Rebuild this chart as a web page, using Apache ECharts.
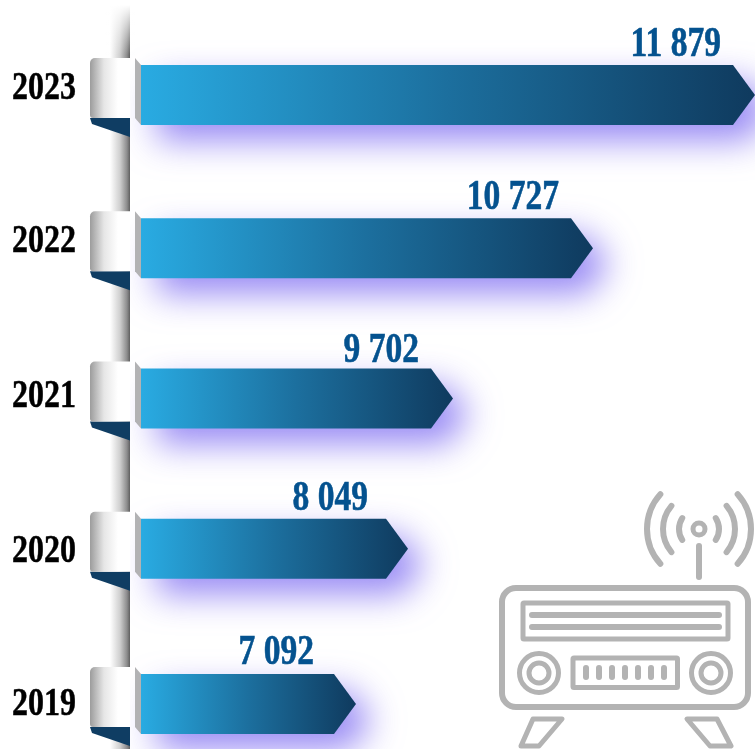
<!DOCTYPE html>
<html>
<head>
<meta charset="utf-8">
<title>Radio</title>
<script src="https://cdn.jsdelivr.net/npm/echarts@6/dist/echarts.min.js"></script>
<style>
  html, body { margin: 0; padding: 0; background: #fff; }
  #chart { width: 755px; height: 749px; }
</style>
</head>
<body>
<div id="chart"></div>
<script>
var years = ['2023', '2022', '2021', '2020', '2019']
// printed figures
var values = [11879, 10727, 9702, 8049, 7092]
var valueLabels = ['11 879', '10 727', '9 702', '8 049', '7 092']
// the arrows in the picture are not to scale with their figures,
// so this is how long each one reads on an axis where the top arrow = 11879
var drawnLengths = [11879, 8750, 6046, 5177, 4172]

var GREY = '#b3b3b3'
var SERIF = '"Liberation Serif", serif'

// hand placed in the original, rows sit a few px off the even spacing
var rowNudge = [0, 1, -1, -3, 0]
var yearNudge = [-7, -6, -3, 0, 0]
var labelNudgeX = [0, 0, 0, -6, -8]
var labelNudgeY = [2, 2, 4, 2, 1]

function renderRow (params, api) {
  var i = params.dataIndex
  var start = api.coord([0, i])
  var end = api.coord([api.value(0), i])
  var cy = start[1] + rowNudge[i]
  var x0 = start[0] + 1
  var tip = end[0]
  var half = 30

  return {
    type: 'group',
    children: [
      // arrow
      {
        type: 'polygon',
        shape: {
          points: [[x0, cy - half], [tip - 22, cy - half], [tip, cy], [tip - 22, cy + half], [x0, cy + half]]
        },
        style: {
          fill: new echarts.graphic.LinearGradient(0, 0, 1, 0, [
            {offset: 0, color: '#29abe2'},
            {offset: 0.5, color: '#1c6f9e'},
            {offset: 1, color: '#0f3a5e'}
          ]),
          shadowColor: 'rgba(110,90,240,0.7)',
          shadowBlur: 34,
          shadowOffsetX: 16,
          shadowOffsetY: 16
        }
      },
      // fold between ribbon and arrow
      {
        type: 'polygon',
        shape: {points: [[x0 - 6, cy - 37], [x0, cy - 30], [x0, cy + 30], [x0 - 6, cy + 23]]},
        style: {fill: '#b2b2b4'}
      },
      // ribbon tail
      {
        type: 'polygon',
        shape: {points: [[x0 - 51, cy + 23], [x0 - 11, cy + 23], [x0 - 11, cy + 42], [x0 - 49, cy + 29]]},
        style: {fill: '#0f3d63'}
      },
      // ribbon
      {
        type: 'rect',
        shape: {x: x0 - 51, y: cy - 37, width: 40, height: 60, r: [5, 0, 0, 3]},
        style: {
          fill: new echarts.graphic.LinearGradient(0, 0, 1, 0, [
            {offset: 0, color: '#9c9c9c'},
            {offset: 0.35, color: '#e6e6e6'},
            {offset: 0.7, color: '#ffffff'},
            {offset: 1, color: '#ffffff'}
          ])
        }
      },
      // figure
      {
        type: 'text',
        x: tip - 34 + labelNudgeX[i],
        y: cy - 52 + labelNudgeY[i],
        scaleX: 0.78,
        style: {
          text: valueLabels[i],
          font: 'bold 43px ' + SERIF,
          fill: '#04528f',
          stroke: '#04528f',
          lineWidth: 0.6,
          align: 'right',
          verticalAlign: 'middle'
        }
      },
      // year
      {
        type: 'text',
        x: 44,
        y: start[1] + yearNudge[i],
        scaleX: 0.78,
        style: {
          text: years[i],
          font: 'bold 41px ' + SERIF,
          fill: '#000',
          stroke: '#000',
          lineWidth: 0.5,
          align: 'center',
          verticalAlign: 'middle'
        }
      }
    ]
  }
}

// radio icon
function line (x1, y1, x2, y2, w) {
  return {
    type: 'line',
    shape: {x1: x1, y1: y1, x2: x2, y2: y2},
    style: {stroke: GREY, lineWidth: w || 6, lineCap: 'round'}
  }
}
function box (x, y, w, h, r, lw) {
  return {
    type: 'rect',
    shape: {x: x, y: y, width: w, height: h, r: r},
    style: {fill: 'none', stroke: GREY, lineWidth: lw, lineJoin: 'round'}
  }
}
function ring (cx, cy, r, lw) {
  return {
    type: 'circle',
    shape: {cx: cx, cy: cy, r: r},
    style: {fill: 'none', stroke: GREY, lineWidth: lw}
  }
}
function wave (r, deg, side) {
  var a = deg * Math.PI / 180
  var mid = side < 0 ? Math.PI : 0
  return {
    type: 'arc',
    shape: {cx: 699, cy: 529, r: r, startAngle: mid - a, endAngle: mid + a, clockwise: true},
    style: {fill: 'none', stroke: GREY, lineWidth: 6, lineCap: 'round'}
  }
}
function foot (pts) {
  return {
    type: 'polygon',
    shape: {points: pts},
    style: {fill: 'none', stroke: GREY, lineWidth: 5, lineJoin: 'round'}
  }
}

var radio = [
  box(502, 588, 246, 119, 14, 6),
  box(523, 603, 205, 36, 1, 5),
  line(532, 615, 719, 615),
  line(532, 627, 719, 627),
  ring(539, 673, 19.5, 5),
  ring(539, 673, 10, 5),
  ring(711, 673, 19.5, 5),
  ring(711, 673, 10, 5),
  box(573, 658, 104.5, 29.5, 1, 5),
  line(586, 668, 586, 677),
  line(599, 668, 599, 677),
  line(612, 668, 612, 677),
  line(625, 668, 625, 677),
  line(638, 668, 638, 677),
  line(651, 668, 651, 677),
  line(664, 668, 664, 677),
  line(699, 546, 699, 577),
  ring(699, 529, 6, 5),
  wave(20, 33, -1), wave(20, 33, 1),
  wave(36, 40, -1), wave(36, 40, 1),
  wave(52, 42, -1), wave(52, 42, 1),
  foot([[533, 719], [562, 719], [539, 746], [521, 746]]),
  foot([[687, 719], [717, 719], [731, 746], [710, 746]])
]

var chart = echarts.init(document.getElementById('chart'))
chart.setOption({
  animation: false,
  grid: {left: 140, right: 0, top: 95, bottom: 45},
  xAxis: {type: 'value', min: 0, max: 11879, show: false},
  yAxis: {type: 'category', inverse: true, boundaryGap: false, data: years, show: false},
  graphic: [
    // spine
    {
      type: 'rect',
      z: 0,
      shape: {x: 110, y: 5, width: 20, height: 744},
      style: {
        fill: new echarts.graphic.LinearGradient(0, 0, 1, 0, [
          {offset: 0, color: '#ffffff'},
          {offset: 0.5, color: '#cfcfcf'},
          {offset: 0.85, color: '#8c8c8c'},
          {offset: 1, color: '#5e5e5e'}
        ])
      }
    },
    // top of the spine fades out
    {
      type: 'rect',
      z: 0,
      shape: {x: 105, y: 5, width: 30, height: 50},
      style: {
        fill: new echarts.graphic.LinearGradient(0, 0, 0, 1, [
          {offset: 0, color: 'rgba(255,255,255,1)'},
          {offset: 1, color: 'rgba(255,255,255,0)'}
        ])
      }
    },
    {type: 'group', z: 1, children: radio}
  ],
  series: [{
    type: 'custom',
    z: 5,
    coordinateSystem: 'cartesian2d',
    encode: {x: 0, y: 1},
    renderItem: renderRow,
    data: drawnLengths.map(function (d, i) { return [d, i, values[i]] })
  }]
})
</script>
</body>
</html>
